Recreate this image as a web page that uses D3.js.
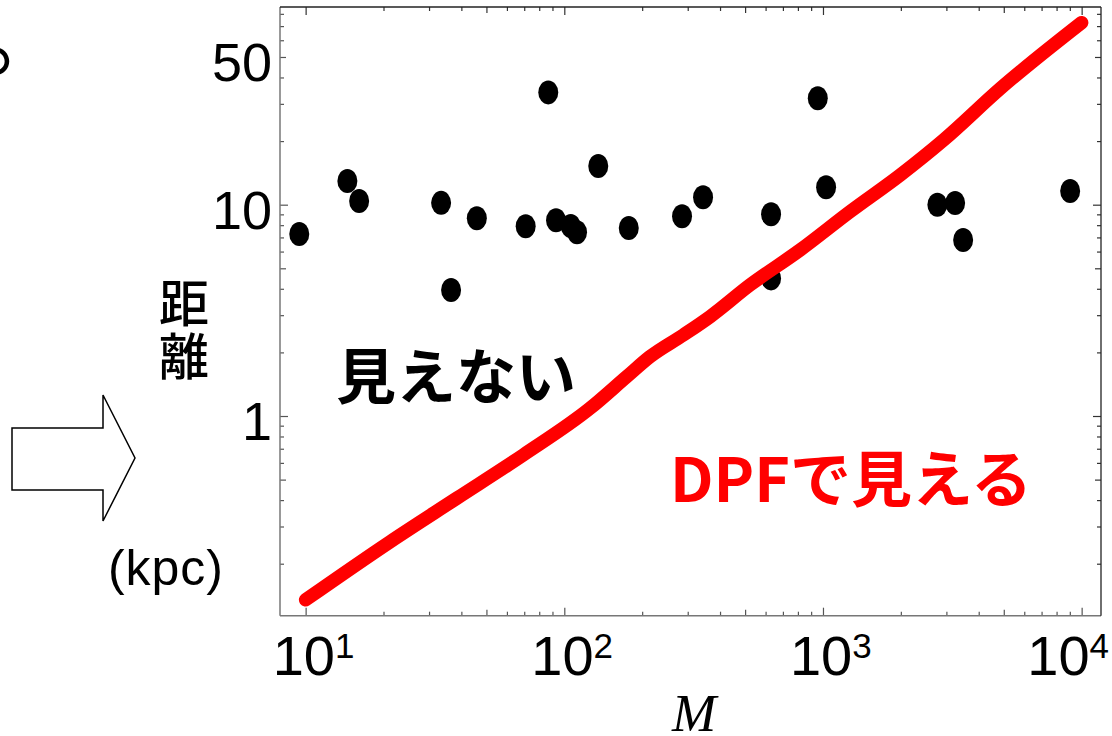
<!DOCTYPE html>
<html>
<head>
<meta charset="utf-8">
<script src="https://cdn.jsdelivr.net/npm/d3@7"></script>
<style>
  html, body { margin: 0; padding: 0; background: #fff; }
  svg { display: block; }
</style>
</head>
<body>
<svg id="chart" width="1112" height="736"></svg>
<script>
// ---------------- data ----------------
// observed objects: mass M and distance (kpc)
const starM = [9.45, 14.5, 16.1, 33.4, 36.5, 45.9, 70.9, 86.7, 92.9, 105.9, 112.0, 135.3, 177.5, 285.2, 343.9, 630, 630, 954.7, 1028, 2769, 3242, 3482, 9028];
const starD = [7.27, 12.95, 10.4, 10.2, 3.95, 8.62, 7.90, 34.0, 8.44, 7.93, 7.40, 15.25, 7.76, 8.81, 10.84, 9.01, 4.48, 31.9, 12.09, 10.0, 10.19, 6.81, 11.6];
// DPF detection limit curve
const limitM = [10, 21.2, 38.4, 69.4, 125.7, 174.3, 214.5, 288.5, 366, 522.6, 815.6, 1273, 1987, 2922, 4842, 10000];
const limitD = [0.135, 0.254, 0.408, 0.654, 1.087, 1.535, 1.909, 2.417, 2.951, 4.17, 6.10, 9.27, 13.8, 20.2, 35.4, 72.7];
// tick labels
const xLabelExp = [1, 2, 3, 4];
const yLabelVals = [50, 10, 1];
// axis ranges
const xDomain = [7.96, 11880];
const yDomain = [0.1135, 86.2];
// texts
const yTitle = ["距", "離"];
const yUnit = "(kpc)";
const xTitle = "M";
const textInvisible = "見えない";
const textVisible = "DPFで見える";

// ---------------- layout ----------------
const W = 1112;
const svg = d3.select("#chart");
const P = { left: 280, right: 1101, top: 7, bottom: 615.7 };

const x = d3.scaleLog().domain(xDomain).range([P.left, P.right]);
const y = d3.scaleLog().domain(yDomain).range([P.bottom, P.top]);

const xTicks = [];
for (let e = 1; e <= 4; e++) {
  for (let m = 1; m <= 9; m++) {
    const v = m * Math.pow(10, e);
    if (v >= xDomain[0] && v <= xDomain[1]) xTicks.push(v);
  }
}
const yTicks = [];
for (let e = -1; e <= 1; e++) {
  for (let m = 1; m <= 9; m++) {
    const v = m * Math.pow(10, e);
    if (v >= yDomain[0] && v <= yDomain[1]) yTicks.push(v);
  }
}
function tickLen(v) {
  const lg = Math.log10(v);
  if (Math.abs(lg - Math.round(lg)) < 1e-6) return 8;
  const m = v / Math.pow(10, Math.floor(lg + 1e-9));
  if (Math.abs(m - 5) < 1e-6) return 6;
  return 4;
}

const frameColor = "#555";
const plotG = svg.append("g");

// dots (red line goes over them)
plotG.append("g").selectAll("ellipse")
  .data(starM.map((m, i) => [m, starD[i]]))
  .join("ellipse")
  .attr("cx", d => x(d[0]))
  .attr("cy", d => y(d[1]))
  .attr("rx", 10)
  .attr("ry", 12)
  .attr("fill", "#000");

// red limit line
const line = d3.line().x(d => x(d[0])).y(d => y(d[1])).curve(d3.curveMonotoneX);
plotG.append("path")
  .datum(limitM.map((m, i) => [m, limitD[i]]))
  .attr("d", line)
  .attr("fill", "none")
  .attr("stroke", "#ff0000")
  .attr("stroke-width", 13.5)
  .attr("stroke-linecap", "round")
  .attr("stroke-linejoin", "round");

// axes via d3.axis, ticks pointing inward
function cleanAxis(g) {
  g.select(".domain").remove();
  g.selectAll(".tick text").remove();
}
const gBottom = svg.append("g").attr("transform", `translate(0,${P.bottom})`)
  .call(d3.axisBottom(x).tickValues(xTicks).tickSize(-1));
gBottom.selectAll(".tick line").attr("y2", d => -tickLen(d)).attr("stroke", frameColor).attr("stroke-width", 1.2);
cleanAxis(gBottom);

const gTop = svg.append("g").attr("transform", `translate(0,${P.top})`)
  .call(d3.axisTop(x).tickValues(xTicks).tickSize(-1));
gTop.selectAll(".tick line").attr("y2", d => tickLen(d)).attr("stroke", "#333").attr("stroke-width", 1.2);
cleanAxis(gTop);

const gLeft = svg.append("g").attr("transform", `translate(${P.left},0)`)
  .call(d3.axisLeft(y).tickValues(yTicks).tickSize(-1));
gLeft.selectAll(".tick line").attr("x2", d => tickLen(d)).attr("stroke", frameColor).attr("stroke-width", 1.2);
cleanAxis(gLeft);

const gRight = svg.append("g").attr("transform", `translate(${P.right},0)`)
  .call(d3.axisRight(y).tickValues(yTicks).tickSize(-1));
gRight.selectAll(".tick line").attr("x2", d => -tickLen(d)).attr("stroke", "#333").attr("stroke-width", 1.2);
cleanAxis(gRight);

// frame
svg.append("line").attr("x1", P.left).attr("x2", P.right).attr("y1", P.bottom).attr("y2", P.bottom)
  .attr("stroke", "#777").attr("stroke-width", 1.5);
svg.append("line").attr("x1", P.left).attr("x2", P.left).attr("y1", P.top).attr("y2", P.bottom)
  .attr("stroke", "#777").attr("stroke-width", 1.5);
svg.append("line").attr("x1", P.left).attr("x2", P.right).attr("y1", P.top).attr("y2", P.top)
  .attr("stroke", "#222").attr("stroke-width", 1.3);
svg.append("line").attr("x1", P.right).attr("x2", P.right).attr("y1", P.top).attr("y2", P.bottom)
  .attr("stroke", "#222").attr("stroke-width", 1.3);

// y tick labels
svg.append("g").selectAll("text")
  .data(yLabelVals)
  .join("text")
  .attr("x", 272)
  .attr("y", d => y(d) + 5)
  .attr("dy", "0.36em")
  .attr("text-anchor", "end")
  .attr("font-family", "'Liberation Sans', Arial, sans-serif")
  .attr("font-size", 54)
  .attr("fill", "#000")
  .text(d => d);

// x tick labels 10^n (kept inside the picture)
const xl = svg.append("g").selectAll("text")
  .data(xLabelExp)
  .join("text")
  .attr("y", 675)
  .attr("text-anchor", "start")
  .attr("font-family", "'Liberation Sans', Arial, sans-serif")
  .attr("font-size", 56)
  .attr("fill", "#000");
xl.append("tspan").text("10");
xl.append("tspan").attr("font-size", 35).attr("dy", -17).text(d => d);
xl.each(function(d) {
  const w = this.getComputedTextLength();
  let left = x(Math.pow(10, d)) - 33;
  if (left + w > W - 3) left = W - 3 - w;
  d3.select(this).attr("x", left);
});

// x title
svg.append("text")
  .attr("x", 694).attr("y", 731)
  .attr("text-anchor", "middle")
  .attr("font-family", "'Liberation Serif', 'Times New Roman', serif")
  .attr("font-style", "italic")
  .attr("font-size", 53)
  .text(xTitle);

// y title (vertical stacked, one text)
const yt = svg.append("text")
  .attr("x", 184)
  .attr("y", 300)
  .attr("dominant-baseline", "central")
  .attr("text-anchor", "middle")
  .attr("font-family", "'Noto Sans CJK JP', sans-serif")
  .attr("font-weight", 500)
  .attr("font-size", 50);
yt.selectAll("tspan").data(yTitle).join("tspan")
  .attr("x", 184)
  .attr("dy", (d, i) => i === 0 ? 0 : 53)
  .text(d => d);

svg.append("text")
  .attr("x", 224).attr("y", 585)
  .attr("text-anchor", "end")
  .attr("font-family", "'Liberation Sans', Arial, sans-serif")
  .attr("font-size", 50)
  .attr("letter-spacing", 1)
  .text(yUnit);

// arrow
svg.append("path")
  .attr("d", "M12,428 L103,428 L103,395 L135,458 L103,521 L103,490 L12,490 Z")
  .attr("fill", "#fff")
  .attr("stroke", "#000")
  .attr("stroke-width", 1.5);

// cut-off full stop at top-left
svg.append("text")
  .attr("x", -22).attr("y", 69)
  .attr("font-family", "'Noto Sans CJK JP', sans-serif")
  .attr("font-size", 90)
  .text("。");

// annotations
svg.append("text")
  .attr("x", 336).attr("y", 372)
  .attr("dominant-baseline", "central")
  .attr("font-family", "'Noto Sans CJK JP', sans-serif")
  .attr("font-weight", 700)
  .attr("font-size", 60)
  .attr("fill", "#000")
  .text(textInvisible);

svg.append("text")
  .attr("x", 670).attr("y", 502)
  .attr("font-family", "'Noto Sans CJK JP', sans-serif")
  .attr("font-weight", 700)
  .attr("font-size", 61)
  .attr("fill", "#ff0000")
  .text(textVisible);
</script>
</body>
</html>
